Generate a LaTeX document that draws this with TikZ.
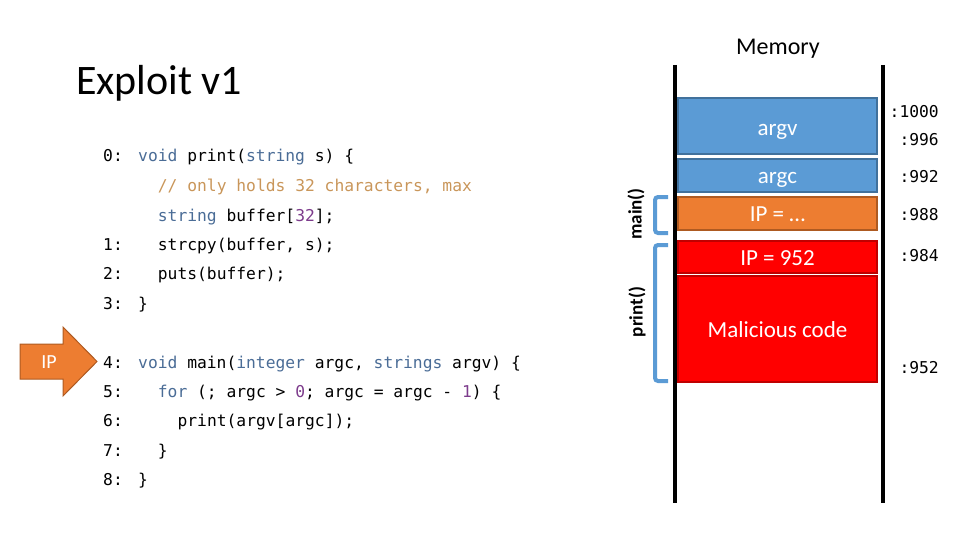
\documentclass[tikz,border=0pt]{standalone}
\usepackage{fontspec}
\setmainfont{Carlito}
\setmonofont{DejaVu Sans Mono}
\definecolor{kwblue}{RGB}{74,108,150}
\definecolor{cmtorange}{RGB}{201,150,90}
\definecolor{numpurple}{RGB}{125,60,140}
\definecolor{memblue}{HTML}{5B9BD5}
\definecolor{memblueedge}{HTML}{41719C}
\definecolor{memorange}{HTML}{ED7D31}
\definecolor{memorangeedge}{HTML}{AE5A21}
\definecolor{memred}{HTML}{FF0000}
\definecolor{memrededge}{HTML}{C00000}
\newcommand\codefont{\ttfamily\fontsize{16.3}{18}\selectfont}
\newcommand\boxfont{\fontsize{23}{26}\selectfont}
\newcommand\kwd[1]{\textcolor{kwblue}{#1}}
\newcommand\cmt[1]{\textcolor{cmtorange}{#1}}
\newcommand\numc[1]{\textcolor{numpurple}{#1}}
\tikzset{
  code/.style={anchor=base west, inner sep=0pt, font=\codefont, text=black},
  addr/.style={anchor=east, inner sep=0pt, font=\codefont, text=black},
  membox/.style={draw, line width=1.2pt, minimum width=199pt, minimum height=#1, inner sep=0pt, font=\boxfont, text=white, text height=21pt, text depth=5pt},
  stackline/.style={line width=4pt, black},
  bracket/.style={line width=4pt, memblue, rounded corners=3pt},
  framelabel/.style={rotate=90, inner sep=0pt, font=\bfseries\fontsize{19}{20}\selectfont}
}
\begin{document}
\begin{tikzpicture}[x=1pt,y=-1pt]
\useasboundingbox (0,0) rectangle (960,540);

% title
\node[anchor=base west, inner sep=0pt, font=\fontsize{42}{46}\selectfont] (title) at (76,95) {Exploit v1};
\node[anchor=base, inner sep=0pt, font=\fontsize{24}{26}\selectfont] (memtitle) at (778,55) {Memory};

% code
\node[code] (n0) at (103,162) {0:};
\node[code] (c0) at (138,162) {\kwd{void} print(\kwd{string} s) \{};
\node[code] (c0b) at (157.7,191) {\cmt{// only holds 32 characters, max}};
\node[code] (c0c) at (157.7,221) {\kwd{string} buffer[\numc{32}];};
\node[code] (n1) at (103,250) {1:};
\node[code] (c1) at (157.7,250) {strcpy(buffer, s);};
\node[code] (n2) at (103,279) {2:};
\node[code] (c2) at (157.7,279) {puts(buffer);};
\node[code] (n3) at (103,309) {3:};
\node[code] (c3) at (138,309) {\}};
\node[code] (n4) at (103,368) {4:};
\node[code] (c4) at (138,368) {\kwd{void} main(\kwd{integer} argc, \kwd{strings} argv) \{};
\node[code] (n5) at (103,397) {5:};
\node[code] (c5) at (157.7,397) {\kwd{for} (; argc > \numc{0}; argc = argc - \numc{1}) \{};
\node[code] (n6) at (103,426) {6:};
\node[code] (c6) at (177.4,426) {print(argv[argc]);};
\node[code] (n7) at (103,456) {7:};
\node[code] (c7) at (157.7,456) {\}};
\node[code] (n8) at (103,485) {8:};
\node[code] (c8) at (138,485) {\}};

% IP arrow
\draw[fill=memorange, draw=memorangeedge, line width=1pt]
  (20,344) -- (63,344) -- (63,327) -- (97,361.5) -- (63,396) -- (63,379) -- (20,379) -- cycle;
\node[inner sep=0pt, text=white, font=\fontsize{20}{22}\selectfont] (ip) at (49,362) {IP};

% memory stack
\draw[stackline] (675,65) -- (675,503);
\draw[stackline] (883,65) -- (883,503);
\node[membox=56pt, fill=memblue, draw=memblueedge, text height=25pt] (argv) at (777.5,126) {argv};
\node[membox=33pt, fill=memblue, draw=memblueedge] (argc) at (777.5,175.5) {argc};
\node[membox=33pt, fill=memorange, draw=memorangeedge] (ipmain) at (777.5,213.5) {IP = …};
\node[membox=32pt, fill=memred, draw=memrededge] (ipprint) at (777.5,257) {IP = 952};
\node[membox=106pt, fill=memred, draw=memrededge] (mal) at (777.5,329) {Malicious code};

% addresses
\node[addr] (a1000) at (939,112) {:1000};
\node[addr] (a996) at (939,140) {:996};
\node[addr] (a992) at (939,177) {:992};
\node[addr] (a988) at (939,215) {:988};
\node[addr] (a984) at (939,256) {:984};
\node[addr] (a952) at (939,368) {:952};

% frame brackets
\draw[bracket] (668,197) -- (655,197) -- (655,233) -- (668,233);
\draw[bracket] (668,245) -- (655,245) -- (655,381) -- (668,381);
\node[framelabel] (mainlbl) at (636,214) {main()};
\node[framelabel] (printlbl) at (637,312) {print()};
\end{tikzpicture}
\end{document}
